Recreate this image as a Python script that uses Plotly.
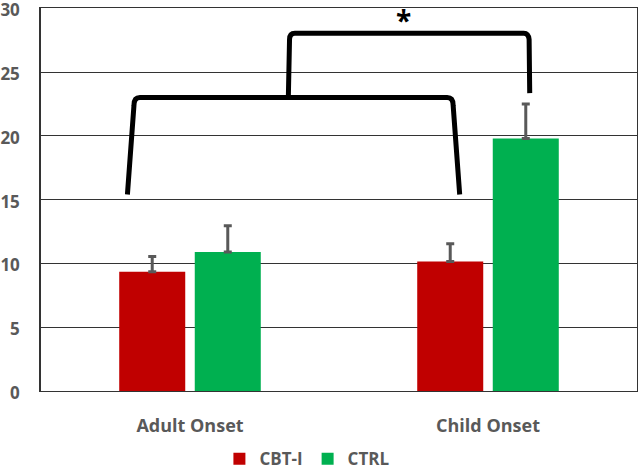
import plotly.graph_objects as go

categories = ["Adult Onset", "Child Onset"]
cbt_values = [9.35, 10.15]
cbt_err = [1.2, 1.4]
ctrl_values = [10.9, 19.8]
ctrl_err = [2.05, 2.7]
y_ticks = [0, 5, 10, 15, 20, 25, 30]

# significance brackets (category index units, data units)
lower_bracket = dict(x0=-0.21, x1=0.905, y_foot=15.4, y_top=23.0)
upper_bracket = dict(x0=0.33, x1=1.14, y_foot=23.35, y_top=28.05)
star_pos = dict(x=0.715, y=29.05)

RED = "#C00000"
GREEN = "#00B050"
GREY = "#595959"
FONT = "Open Sans"

fig = go.Figure()
fig.add_trace(go.Bar(
    x=categories, y=cbt_values, name="CBT-I", marker=dict(color=RED, line=dict(width=0)),
    error_y=dict(type="data", array=cbt_err, symmetric=False, arrayminus=[0, 0],
                 color=GREY, thickness=3, width=4)))
fig.add_trace(go.Bar(
    x=categories, y=ctrl_values, name="CTRL", marker=dict(color=GREEN, line=dict(width=0)),
    error_y=dict(type="data", array=ctrl_err, symmetric=False, arrayminus=[0, 0],
                 color=GREY, thickness=3, width=4)))


def bracket_path(x0, x1, yf, yt, lean=0.012, rx=0.02, ry=0.5):
    lx = x0 + lean
    rxx = x1 - lean
    return (f"M {x0},{yf} L {lx},{yt - ry} Q {lx},{yt} {lx + rx},{yt} "
            f"L {rxx - rx},{yt} Q {rxx},{yt} {rxx},{yt - ry} L {x1},{yf}")


lb = lower_bracket
fig.add_shape(type="path", xref="x", yref="y",
              path=bracket_path(lb["x0"], lb["x1"], lb["y_foot"], lb["y_top"], lean=0.022, rx=0.02, ry=0.6),
              line=dict(color="black", width=5))
ub = upper_bracket
fig.add_shape(type="path", xref="x", yref="y",
              path=(f"M {ub['x0']},{lb['y_top']} L {ub['x0'] + 0.004},{ub['y_top'] - 0.5} "
                    f"Q {ub['x0'] + 0.004},{ub['y_top']} {ub['x0'] + 0.022},{ub['y_top']} "
                    f"L {ub['x1'] - 0.02},{ub['y_top']} Q {ub['x1'] - 0.004},{ub['y_top']} "
                    f"{ub['x1'] - 0.002},{ub['y_top'] - 0.5} L {ub['x1']},{ub['y_foot']}"),
              line=dict(color="black", width=5))

fig.add_annotation(x=star_pos["x"], y=star_pos["y"], xref="x", yref="y", text="<b>*</b>",
                   showarrow=False, font=dict(family=FONT, size=28, color="black"),
                   yanchor="middle")

tick_font = dict(family=FONT, size=17, color=GREY, weight=700)

fig.update_layout(
    width=638, height=472,
    margin=dict(l=41, r=1, t=8, b=81, autoexpand=False),
    paper_bgcolor="white", plot_bgcolor="white",
    barmode="group", bargap=0.493, bargroupgap=0.126,
    showlegend=True,
    legend=dict(orientation="h", x=0.447, xanchor="center", y=-0.178, yanchor="middle",
                font=dict(family=FONT, size=17, color=GREY, weight=700),
                itemwidth=30, tracegroupgap=0, traceorder="normal"),
    xaxis=dict(range=[-0.5, 1.5], showgrid=False, showline=True, mirror=True,
               linecolor="#333", linewidth=1, ticks="", automargin=False,
               tickfont=dict(family=FONT, size=18, color=GREY, weight=700),
               ticklabelstandoff=18, ticklabeloverflow="allow"),
    yaxis=dict(range=[0, 30.02], tickvals=y_ticks, showgrid=True, gridcolor="#333", gridwidth=1,
               showline=True, mirror=True, linecolor="#333", linewidth=1.5, ticks="",
               zeroline=False, automargin=False,
               tickfont=tick_font, ticklabelstandoff=16, ticklabelshift=2,
               ticklabeloverflow="allow"),
)

fig.write_html("out.html", config={"displayModeBar": False},
               post_script="document.body.style.margin='0';document.body.style.overflow='hidden';")
